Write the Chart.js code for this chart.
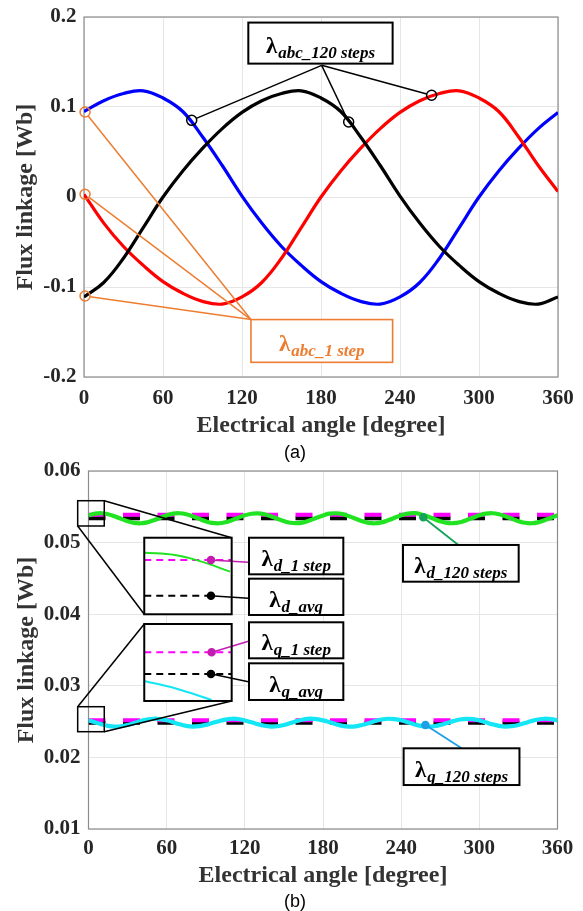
<!DOCTYPE html>
<html>
<head>
<meta charset="utf-8">
<script src="https://cdn.jsdelivr.net/npm/chart.js@4.4.1/dist/chart.umd.min.js"></script>
<style>
  html, body { margin: 0; padding: 0; background: #fff; }
  #wrap { position: relative; width: 583px; height: 911px; overflow: hidden; background: #fff; }
  #wrap canvas { position: absolute; left: 0; }
  #cA { top: 0; }
  #cB { top: 460px; }
  .cap { position: absolute; width: 60px; text-align: center; font: 18px "Liberation Sans", Arial, sans-serif; color: #000; line-height: 18px; }
</style>
</head>
<body>
<div id="wrap">
  <canvas id="cA" width="583" height="460"></canvas>
  <canvas id="cB" width="583" height="451"></canvas>
  <div class="cap" style="left:265px; top:443px;">(a)</div>
  <div class="cap" style="left:265px; top:892px;">(b)</div>
</div>
<script>
// ---- (a) phase flux linkage, every 15 deg ----
const angA = [0, 15, 30, 45, 60, 75, 90, 105, 120, 135, 150, 165, 180, 195, 210, 225, 240, 255, 270, 285, 300, 315, 330, 345, 360];
const fluxBlue  = [0.095, 0.107, 0.115, 0.118, 0.110, 0.095, 0.067, 0.035, 0.001, -0.029, -0.055, -0.076, -0.094, -0.107, -0.116, -0.119, -0.111, -0.095, -0.068, -0.034, 0.000, 0.029, 0.054, 0.076, 0.094];
const fluxRed   = [0.003, -0.029, -0.055, -0.076, -0.094, -0.107, -0.116, -0.119, -0.111, -0.095, -0.068, -0.034, 0.000, 0.029, 0.054, 0.076, 0.094, 0.107, 0.115, 0.118, 0.110, 0.095, 0.067, 0.035, 0.006];
const fluxBlack = [-0.111, -0.095, -0.068, -0.034, 0.000, 0.029, 0.054, 0.076, 0.094, 0.107, 0.115, 0.118, 0.110, 0.095, 0.067, 0.035, 0.001, -0.029, -0.055, -0.076, -0.094, -0.107, -0.116, -0.119, -0.111];

// marked samples in (a)
const ring120Ang = [81.8, 201, 264];
const ring120Flux = [0.0852, 0.0833, 0.113];
const ring1Ang = [0.8, 0.8, 0.8];
const ring1Flux = [0.0944, 0.003, -0.110];

// ---- (b) dq flux linkage, every 5 deg ----
const angB = [0, 5, 10, 15, 20, 25, 30, 35, 40, 45, 50, 55, 60, 65, 70, 75, 80, 85, 90, 95, 100, 105, 110, 115,
  120, 125, 130, 135, 140, 145, 150, 155, 160, 165, 170, 175, 180, 185, 190, 195, 200, 205, 210, 215, 220, 225, 230, 235,
  240, 245, 250, 255, 260, 265, 270, 275, 280, 285, 290, 295, 300, 305, 310, 315, 320, 325, 330, 335, 340, 345, 350, 355, 360];
const fluxD120 = [
  0.05381, 0.05404, 0.05410, 0.05397, 0.05368, 0.05333, 0.05299, 0.05276, 0.05270, 0.05283, 0.05312, 0.05347,
  0.05382, 0.05405, 0.05410, 0.05396, 0.05367, 0.05332, 0.05298, 0.05275, 0.05270, 0.05284, 0.05313, 0.05348,
  0.05381, 0.05403, 0.05409, 0.05396, 0.05368, 0.05334, 0.05300, 0.05277, 0.05271, 0.05283, 0.05311, 0.05346,
  0.05380, 0.05404, 0.05410, 0.05398, 0.05369, 0.05333, 0.05299, 0.05276, 0.05270, 0.05282, 0.05312, 0.05347,
  0.05382, 0.05405, 0.05411, 0.05397, 0.05367, 0.05332, 0.05298, 0.05276, 0.05271, 0.05284, 0.05313, 0.05348,
  0.05381, 0.05404, 0.05410, 0.05397, 0.05368, 0.05333, 0.05299, 0.05277, 0.05270, 0.05283, 0.05312, 0.05347,
  0.05381];
const fluxQ120 = [
  0.02517, 0.02491, 0.02463, 0.02441, 0.02430, 0.02435, 0.02453, 0.02479, 0.02507, 0.02529, 0.02540, 0.02535,
  0.02518, 0.02492, 0.02462, 0.02440, 0.02430, 0.02436, 0.02454, 0.02480, 0.02506, 0.02528, 0.02540, 0.02536,
  0.02516, 0.02490, 0.02463, 0.02442, 0.02431, 0.02435, 0.02452, 0.02479, 0.02508, 0.02530, 0.02541, 0.02535,
  0.02517, 0.02491, 0.02464, 0.02441, 0.02430, 0.02434, 0.02453, 0.02478, 0.02507, 0.02529, 0.02540, 0.02534,
  0.02518, 0.02491, 0.02463, 0.02440, 0.02429, 0.02435, 0.02454, 0.02480, 0.02507, 0.02529, 0.02539, 0.02535,
  0.02517, 0.02490, 0.02462, 0.02441, 0.02430, 0.02436, 0.02453, 0.02479, 0.02508, 0.02530, 0.02540, 0.02535,
  0.02517];
const angEnds = [0, 360];
const fluxD1step = [0.0539, 0.0539];
const fluxDavg = [0.0534, 0.0534];
const fluxQ1step = [0.0252, 0.0252];
const fluxQavg = [0.02485, 0.02485];

// zoom insets in (b), drawn in the plot's own units
const insetAng = [42.8, 109.9];
const insetDGreenAng = [42.8, 66.4, 86.9, 108.6];
const insetDGreenFlux = [0.04859, 0.04827, 0.04734, 0.04594];
const insetD1Flux = [0.04757, 0.04757];
const insetDavgAng = [42.8, 94.0];
const insetDavgFlux = [0.04258, 0.04258];
const insetQ1Flux = [0.03468, 0.03468];
const insetQavgFlux = [0.03165, 0.03165];
const insetQCyanAng = [42.8, 66.4, 94.5];
const insetQCyanFlux = [0.03067, 0.02965, 0.02802];
const dotMagAng = [94.0, 94.5];
const dotMagFlux = [0.04757, 0.03468];
const dotBlackAng = [94.0, 94.0];
const dotBlackFlux = [0.04258, 0.03165];
const dotGreenAng = [257];
const dotGreenFlux = [0.05353];
const dotCyanAng = [258.6];
const dotCyanFlux = [0.02453];

const ORANGE = '#ed7d31';
const SERIF = '"Liberation Serif", "Times New Roman", serif';

function pts(xs, ys) { return xs.map((x, i) => ({ x: x, y: ys[i] })); }
function curve(xs, ys, color, lw, order, extra) {
  return Object.assign({ data: pts(xs, ys), borderColor: color, borderWidth: lw, pointRadius: 0,
    pointHoverRadius: 0, tension: 0.4, fill: false, order: order }, extra || {});
}
function marks(xs, ys, color, r, filled) {
  return { data: pts(xs, ys), showLine: false, pointRadius: r, pointHoverRadius: r, pointBorderWidth: 1.5,
    pointBorderColor: color, pointBackgroundColor: filled ? color : 'rgba(0,0,0,0)', clip: false, order: 1 };
}

function drawLabel(ctx, cx, cy, sub, color) {
  ctx.save();
  ctx.fillStyle = color;
  ctx.textBaseline = 'alphabetic';
  const f1 = 'bold 23px ' + SERIF, f2 = 'bold italic 17px ' + SERIF;
  ctx.font = f1; const w1 = ctx.measureText('λ').width;
  ctx.font = f2; const w2 = ctx.measureText(sub).width;
  const x = cx - (w1 + 1 + w2) / 2;
  ctx.font = f1; ctx.fillText('λ', x, cy + 10);
  ctx.font = f2; ctx.fillText(sub, x + w1 + 1, cy + 15);
  ctx.restore();
}

// boxes, leader lines and labels placed in data units
function annotator(boxes, segs) {
  return {
    id: 'annotator',
    beforeDatasetsDraw(chart) {
      const ctx = chart.ctx, a = chart.chartArea, sx = chart.scales.x, sy = chart.scales.y;
      ctx.save();
      ctx.strokeStyle = '#8c8c8c';
      ctx.lineWidth = 1.2;
      ctx.strokeRect(a.left, a.top, a.right - a.left, a.bottom - a.top);
      boxes.forEach(b => {
        if (!b.fill) return;
        const x0 = sx.getPixelForValue(b.x[0]), x1 = sx.getPixelForValue(b.x[1]);
        const y0 = sy.getPixelForValue(b.y[1]), y1 = sy.getPixelForValue(b.y[0]);
        ctx.fillStyle = '#fff';
        ctx.fillRect(x0, y0, x1 - x0, y1 - y0);
      });
      ctx.restore();
    },
    afterDatasetsDraw(chart) {
      const ctx = chart.ctx, sx = chart.scales.x, sy = chart.scales.y;
      ctx.save();
      segs.forEach(s => {
        let ax = sx.getPixelForValue(s.a[0]), ay = sy.getPixelForValue(s.a[1]);
        let bx = sx.getPixelForValue(s.b[0]), by = sy.getPixelForValue(s.b[1]);
        const len = Math.hypot(bx - ax, by - ay) || 1;
        const ux = (bx - ax) / len, uy = (by - ay) / len;
        const t0 = s.trimA || 0, t1 = s.trimB || 0;
        ax += ux * t0; ay += uy * t0; bx -= ux * t1; by -= uy * t1;
        ctx.strokeStyle = s.color;
        ctx.lineWidth = s.lw;
        ctx.beginPath(); ctx.moveTo(ax, ay); ctx.lineTo(bx, by); ctx.stroke();
      });
      boxes.forEach(b => {
        const x0 = sx.getPixelForValue(b.x[0]), x1 = sx.getPixelForValue(b.x[1]);
        const y0 = sy.getPixelForValue(b.y[1]), y1 = sy.getPixelForValue(b.y[0]);
        ctx.strokeStyle = b.color;
        ctx.lineWidth = b.lw;
        ctx.strokeRect(x0, y0, x1 - x0, y1 - y0);
        if (b.sub) drawLabel(ctx, (x0 + x1) / 2, (y0 + y1) / 2, b.sub, b.tc || '#000');
      });
      ctx.restore();
    }
  };
}

function axes(o) {
  const tickFont = { family: SERIF, size: 21, weight: 'bold', lineHeight: 1 };
  const titleFont = { family: SERIF, size: 24, weight: 'bold' };
  return {
    x: {
      type: 'linear', min: 0, max: 360,
      ticks: { stepSize: 60, font: tickFont, color: '#262626', padding: o.xPad, maxRotation: 0 },
      grid: { color: '#e6e6e6', drawTicks: false },
      border: { display: false },
      title: { display: true, text: 'Electrical angle [degree]', font: titleFont, color: '#333', padding: { top: 0, bottom: o.xTitle } },
      afterFit: s => { s.height = o.xH; s.paddingLeft = 0; s.paddingRight = 0; }
    },
    y: {
      min: o.yMin, max: o.yMax,
      ticks: { stepSize: o.yStep, font: tickFont, color: '#262626', padding: o.yPad, callback: o.yFmt },
      grid: { color: '#e6e6e6', drawTicks: false },
      border: { display: false },
      title: { display: true, text: 'Flux linkage [Wb]', font: titleFont, color: '#333', padding: { top: o.yTitle, bottom: 0 } },
      afterFit: s => { s.width = o.yW; s.paddingTop = 0; s.paddingBottom = 0; }
    }
  };
}

const common = {
  responsive: false,
  animation: false,
  events: [],
  plugins: { legend: { display: false }, tooltip: { enabled: false } }
};

// ---- chart (a) ----
new Chart(document.getElementById('cA'), {
  type: 'line',
  data: {
    datasets: [
      curve(angA, fluxBlue, '#0000ff', 3.2, 5),
      curve(angA, fluxRed, '#ff0000', 3.2, 4),
      curve(angA, fluxBlack, '#000000', 3.2, 3),
      marks(ring120Ang, ring120Flux, '#000000', 5, false),
      marks(ring1Ang, ring1Flux, ORANGE, 5, false)
    ]
  },
  options: Object.assign({}, common, {
    layout: { padding: { left: 0, top: 17, right: 25, bottom: 0 } },
    scales: axes({ xPad: 11.5, xTitle: 19.6, xH: 83, yMin: -0.2, yMax: 0.2, yStep: 0.1, yPad: 7.5, yTitle: 11, yW: 84,
      yFmt: v => (Math.abs(v) < 1e-9 ? '0' : v.toFixed(1)) })
  }),
  plugins: [annotator(
    [
      { x: [124.8, 234.4], y: [0.1482, 0.1938], color: '#000', lw: 2, fill: true, sub: 'abc_120 steps', tc: '#000' },
      { x: [126.8, 234.4], y: [-0.1837, -0.1362], color: ORANGE, lw: 1.6, fill: true, sub: 'abc_1 step', tc: ORANGE }
    ],
    [
      { a: [180.5, 0.1463], b: [81.8, 0.0852], color: '#000', lw: 1.5, trimB: 5 },
      { a: [180.5, 0.1463], b: [201, 0.0833], color: '#000', lw: 1.5, trimB: 5 },
      { a: [180.5, 0.1463], b: [264, 0.113], color: '#000', lw: 1.5, trimB: 5 },
      { a: [126.8, -0.1362], b: [0.8, 0.0944], color: ORANGE, lw: 1.5, trimB: 5 },
      { a: [126.8, -0.1362], b: [0.8, 0.003], color: ORANGE, lw: 1.5, trimB: 5 },
      { a: [126.8, -0.1362], b: [0.8, -0.110], color: ORANGE, lw: 1.5, trimB: 5 }
    ]
  )]
});

// ---- chart (b) ----
const MAG = '#ff00ff', MAGDOT = '#c41cb0', GREEN = '#22e322', GREENDK = '#14a35a', CYAN = '#14e6f5', CYANDK = '#1e9fe6';
const bigDash = { borderDash: [17, 17.5], tension: 0 };
const smallDash = { borderDash: [7, 5], tension: 0 };
new Chart(document.getElementById('cB'), {
  type: 'line',
  data: {
    datasets: [
      curve(angEnds, fluxDavg, '#000000', 4, 9, bigDash),
      curve(angEnds, fluxD1step, MAG, 4, 8, bigDash),
      curve(angB, fluxD120, GREEN, 4.2, 7),
      curve(angEnds, fluxQavg, '#000000', 4, 9, bigDash),
      curve(angEnds, fluxQ1step, MAG, 4, 8, bigDash),
      curve(angB, fluxQ120, CYAN, 4.2, 7),
      curve(insetDGreenAng, insetDGreenFlux, GREEN, 2, 3),
      curve(insetAng, insetD1Flux, MAG, 2, 3, smallDash),
      curve(insetDavgAng, insetDavgFlux, '#000000', 2, 3, smallDash),
      curve(insetAng, insetQ1Flux, MAG, 2, 3, smallDash),
      curve(insetAng, insetQavgFlux, '#000000', 2, 3, smallDash),
      curve(insetQCyanAng, insetQCyanFlux, CYAN, 2, 3),
      marks(dotMagAng, dotMagFlux, MAGDOT, 3.5, true),
      marks(dotBlackAng, dotBlackFlux, '#000000', 3.5, true),
      marks(dotGreenAng, dotGreenFlux, GREENDK, 3.5, true),
      marks(dotCyanAng, dotCyanFlux, CYANDK, 3.5, true)
    ]
  },
  options: Object.assign({}, common, {
    layout: { padding: { left: 0, top: 11, right: 25.5, bottom: 0 } },
    scales: axes({ xPad: 9.5, xTitle: 20.6, xH: 82, yMin: 0.01, yMax: 0.06, yStep: 0.01, yPad: 8, yTitle: 12, yW: 88.5,
      yFmt: v => v.toFixed(2) })
  }),
  plugins: [annotator(
    [
      { x: [-8.3, 12.1], y: [0.05232, 0.05585], color: '#000', lw: 1.5 },
      { x: [-8.3, 12.1], y: [0.02359, 0.02708], color: '#000', lw: 1.5 },
      { x: [42.8, 109.9], y: [0.03999, 0.05068], color: '#000', lw: 2, fill: true },
      { x: [42.8, 109.9], y: [0.02788, 0.03863], color: '#000', lw: 2, fill: true },
      { x: [123.2, 195.6], y: [0.04557, 0.05068], color: '#000', lw: 2, fill: true, sub: 'd_1 step' },
      { x: [123.2, 195.6], y: [0.03989, 0.04496], color: '#000', lw: 2, fill: true, sub: 'd_avg' },
      { x: [123.2, 195.6], y: [0.03384, 0.03887], color: '#000', lw: 2, fill: true, sub: 'q_1 step' },
      { x: [123.2, 195.6], y: [0.02802, 0.03314], color: '#000', lw: 2, fill: true, sub: 'q_avg' },
      { x: [241.4, 330.2], y: [0.04454, 0.04967], color: '#000', lw: 2, fill: true, sub: 'd_120 steps' },
      { x: [241.9, 330.8], y: [0.01614, 0.02127], color: '#000', lw: 2, fill: true, sub: 'q_120 steps' }
    ],
    [
      { a: [12.1, 0.05585], b: [109.9, 0.05068], color: '#000', lw: 1.5 },
      { a: [-8.3, 0.05232], b: [42.8, 0.03999], color: '#000', lw: 1.5 },
      { a: [-8.3, 0.02708], b: [42.8, 0.03863], color: '#000', lw: 1.5 },
      { a: [12.1, 0.02359], b: [109.9, 0.02788], color: '#000', lw: 1.5 },
      { a: [94.0, 0.04757], b: [122.7, 0.04725], color: MAGDOT, lw: 1.5, trimA: 3 },
      { a: [94.0, 0.04258], b: [122.7, 0.04222], color: '#000', lw: 1.5, trimA: 3 },
      { a: [94.5, 0.03468], b: [124, 0.03630], color: MAGDOT, lw: 1.5, trimA: 3 },
      { a: [94.0, 0.03165], b: [122.7, 0.03057], color: '#000', lw: 1.5, trimA: 3 },
      { a: [257, 0.05353], b: [283.9, 0.04967], color: GREENDK, lw: 1.8, trimA: 3 },
      { a: [258.6, 0.02453], b: [286.4, 0.02127], color: CYANDK, lw: 1.8, trimA: 3 }
    ]
  )]
});
</script>
</body>
</html>
